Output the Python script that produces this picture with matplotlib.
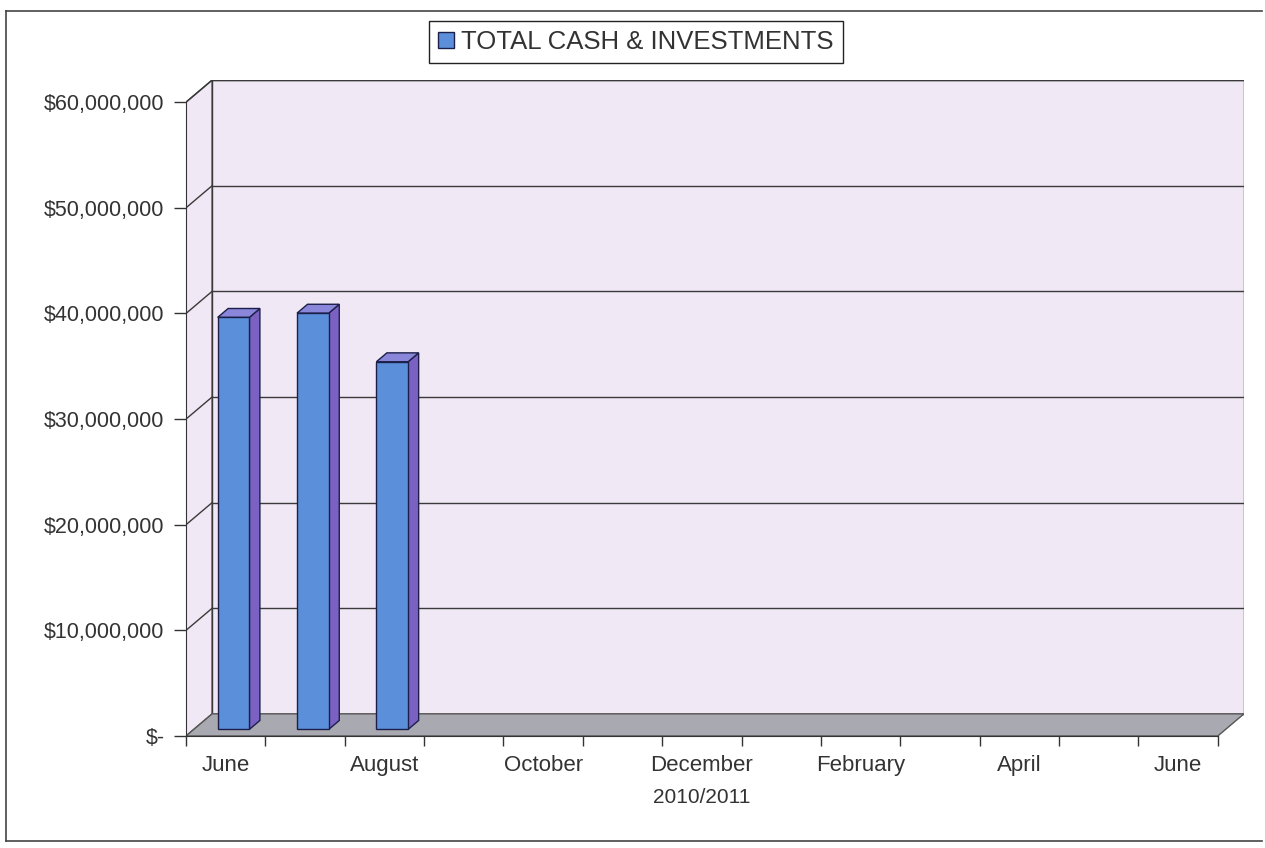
import numpy as np
import matplotlib
matplotlib.use('Agg')
import matplotlib.pyplot as plt
from matplotlib.patches import Polygon, Rectangle
from matplotlib.lines import Line2D

# data
months = ['June', 'July', 'August', 'September', 'October', 'November', 'December',
          'January', 'February', 'March', 'April', 'May', 'June']
cash = [39.0e6, 39.4e6, 34.8e6]
yticks = [0, 10e6, 20e6, 30e6, 40e6, 50e6, 60e6]
ylabels = ['$-', '$10,000,000', '$20,000,000', '$30,000,000',
           '$40,000,000', '$50,000,000', '$60,000,000']
series_name = 'TOTAL CASH & INVESTMENTS'
period = '2010/2011'

plt.rcParams['font.family'] = ['Liberation Sans', 'DejaVu Sans']

W, H = 1265, 848
fig = plt.figure(figsize=(W / 100, H / 100), dpi=100)
ax = fig.add_axes([186 / W, 112 / H, 1058 / W, 656 / H])

n = len(months)
dx = 0.33     # fake 3d depth, in category units
dy = 2.1e6    # fake 3d depth, in dollars
ymax = yticks[-1]
ax.set_xlim(0, n + dx)
ax.set_ylim(0, ymax + dy)

wall = '#F0E8F4'
grid = '#3a3a3a'
front = '#5B8FDA'
side = '#7B62C2'
top = '#8A86DA'
edge = '#1c1f4a'

# walls and floor
ax.add_patch(Polygon([(0, 0), (dx, dy), (dx, ymax + dy), (0, ymax)],
                     facecolor=wall, edgecolor=grid, lw=1, zorder=1))
ax.add_patch(Rectangle((dx, dy), n, ymax, facecolor=wall, edgecolor=grid, lw=1, zorder=1))
for v in yticks[1:]:
    ax.plot([dx, n + dx], [v + dy, v + dy], color=grid, lw=1, zorder=2)
    ax.plot([0, dx], [v, v + dy], color=grid, lw=1, zorder=2)
ax.add_patch(Polygon([(0, 0), (n, 0), (n + dx, dy), (dx, dy)],
                     facecolor='#A9A9B1', edgecolor='#555555', lw=1, zorder=3))

# bars
w = 0.4
d0, d1 = 0.3, 0.4   # where the bar sits in depth, and how deep it is
xc = [i + 0.5 + d0 * dx for i in range(len(cash))]
b = d0 * dy
for x, v in zip(xc, cash):
    r = x + w / 2
    l = x - w / 2
    ax.add_patch(Polygon([(r, b), (r + d1 * dx, b + d1 * dy), (r + d1 * dx, b + v + d1 * dy), (r, b + v)],
                         facecolor=side, edgecolor=edge, lw=1, zorder=4))
    ax.add_patch(Polygon([(l, b + v), (r, b + v), (r + d1 * dx, b + v + d1 * dy), (l + d1 * dx, b + v + d1 * dy)],
                         facecolor=top, edgecolor=edge, lw=1, zorder=4))
bars = ax.bar(xc, cash, width=w, bottom=b, color=front, edgecolor=edge, lw=1, zorder=5)

# axes
for s in ['top', 'right']:
    ax.spines[s].set_visible(False)
ax.spines['left'].set_bounds(0, ymax)
ax.spines['bottom'].set_bounds(0, n)
for s in ['left', 'bottom']:
    ax.spines[s].set_color('#333333')
    ax.spines[s].set_zorder(6)
ax.set_yticks(yticks, ylabels)
ax.tick_params(axis='y', length=8.5, width=1, color='#333333', pad=7,
               labelsize=15.5, labelcolor='#333333')
ax.set_xticks(np.arange(n + 1), minor=True)
ax.set_xticks([i + 0.5 for i in range(0, n, 2)], months[::2])
ax.tick_params(axis='x', which='major', length=0, pad=14, labelsize=16, labelcolor='#333333')
ax.tick_params(axis='x', which='minor', length=7.5, width=1, color='#333333')
ax.annotate(period, xy=(n / 2, 0), xycoords=('data', 'axes fraction'),
            xytext=(0, -44), textcoords='offset points', ha='center', va='center',
            fontsize=15, color='#333333')

ax.legend([bars], [series_name], loc='center', bbox_to_anchor=(636 / W, 1 - 42 / H),
          bbox_transform=fig.transFigure, fancybox=False, edgecolor='#222222',
          framealpha=1, fontsize=18.5, handlelength=0.6, handleheight=0.6,
          handletextpad=0.3, borderpad=0.35, labelcolor='#333333')

# page frame
fx0, fx1, fy0, fy1 = 6 / W, 1262 / W, 1 - 841 / H, 1 - 11 / H
fig.add_artist(Line2D([fx0, fx0], [fy0, fy1], color='#444444', lw=1.2))
fig.add_artist(Line2D([fx0, fx1], [fy1, fy1], color='#444444', lw=1.2))
fig.add_artist(Line2D([fx0, fx1], [fy0, fy0], color='#444444', lw=1.2))

fig.savefig('out.png', dpi=100)
